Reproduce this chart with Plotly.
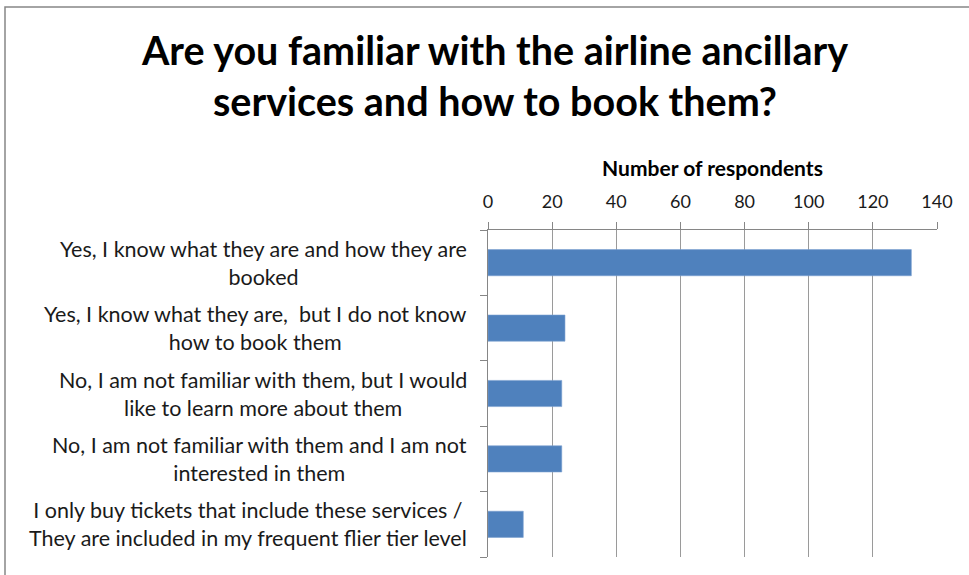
import plotly.graph_objects as go

# Survey answers and respondent counts
categories = [
    "Yes, I know what they are and how they are<br>booked",
    "Yes, I know what they are,  but I do not know<br>how to book them",
    "No, I am not familiar with them, but I would<br>like to learn more about them",
    "No, I am not familiar with them and I am not<br>interested in them",
    "I only buy tickets that include these services /<br>They are included in my frequent flier tier level",
]
respondents = [132, 24, 23, 23, 11]
x_ticks = [0, 20, 40, 60, 80, 100, 120, 140]

W, H = 969, 575
L, R, T, B = 488, 32, 230, 18
FONT = "Lato"
GRID = "#9a9a9a"
AXIS = "#868686"

n = len(categories)

fig = go.Figure()
fig.add_trace(go.Bar(
    x=respondents,
    y=list(range(n)),
    orientation="h",
    width=0.4,
    marker=dict(color="#4F81BD", line=dict(color="#7aa0d0", width=0.6)),
    hoverinfo="x",
))

# Category labels, centred as a block to the left of the value axis
for i, cat in enumerate(categories):
    fig.add_annotation(
        x=0, xref="paper", xanchor="right", xshift=-19,
        y=i, yref="y", yanchor="middle",
        text=cat, showarrow=False, align="center",
        font=dict(family=FONT, size=21.5, color="#1a1a1a"),
    )

fig.update_layout(
    width=W, height=H,
    margin=dict(l=L, r=R, t=T, b=B),
    paper_bgcolor="white", plot_bgcolor="white",
    showlegend=False,
    title=dict(
        text="Are you familiar with the airline ancillary<br>services and how to book them?",
        x=495 / W, xanchor="center", xref="container",
        y=1 - 65 / H, yanchor="middle", yref="container",
        font=dict(family=FONT, size=39.5, color="#000000", weight="bold"),
    ),
    xaxis=dict(
        side="top",
        range=[0, 140],
        tickvals=x_ticks,
        ticktext=[str(v) for v in x_ticks],
        showgrid=True, gridcolor=GRID, gridwidth=1,
        showline=True, linecolor=AXIS, linewidth=1,
        ticks="outside", ticklen=7, tickcolor=AXIS,
        tickfont=dict(family=FONT, size=18, color="#1a1a1a"),
        ticklabelstandoff=7,
        zeroline=False,
        title=dict(text="<b>Number of respondents</b>", standoff=7,
                   font=dict(family=FONT, size=21, color="#000000")),
    ),
    yaxis=dict(
        range=[n - 0.5, -0.5],
        tickvals=[i - 0.5 for i in range(n + 1)],
        ticktext=[""] * (n + 1),
        ticks="outside", ticklen=7, tickcolor=AXIS,
        showline=True, linecolor=AXIS, linewidth=1,
        showgrid=False, zeroline=False,
    ),
)

# Chart frame
fig.add_shape(type="rect", xref="paper", yref="paper",
              x0=(5 - L) / (W - L - R), x1=(W + 10 - L) / (W - L - R),
              y0=-(B + 10) / (H - T - B), y1=1 + (T - 7) / (H - T - B),
              line=dict(color=AXIS, width=1.5), layer="below")

fig.write_html("out.html")
